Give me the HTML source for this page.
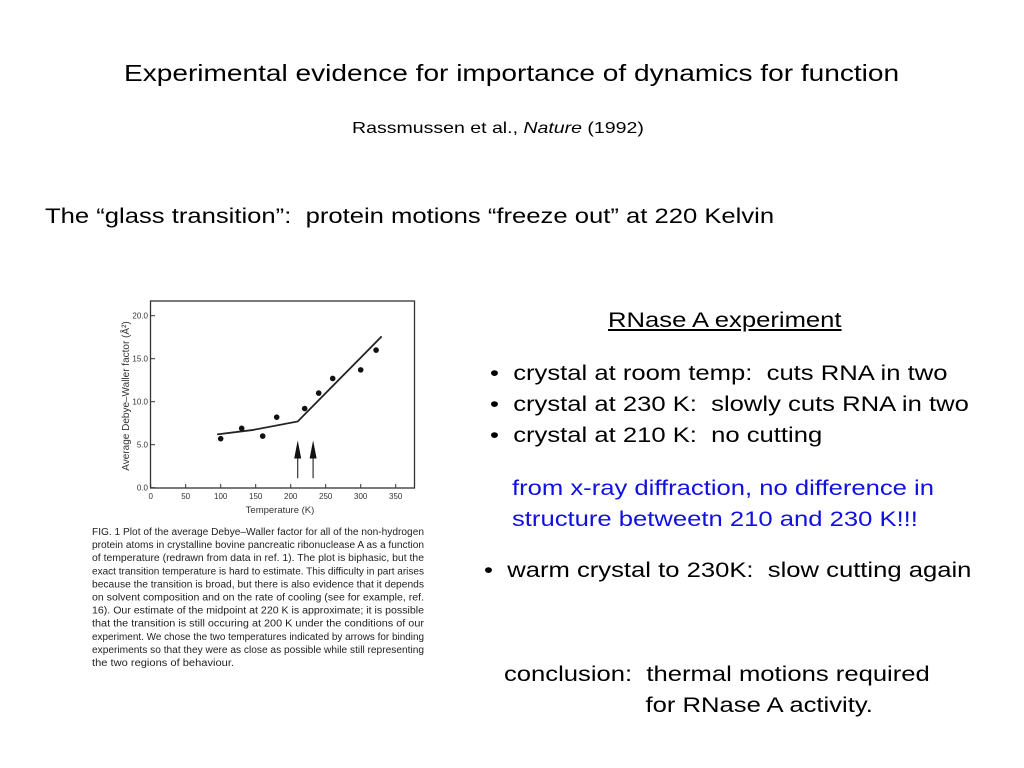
<!DOCTYPE html>
<html><head><meta charset="utf-8"><style>
body{margin:0;width:1024px;height:768px;background:#fff;position:relative;overflow:hidden;font-family:"Liberation Sans",sans-serif;color:#000}
.t{position:absolute;white-space:nowrap;transform:scaleX(1.22);transform-origin:0 0}
</style></head><body>
<div class="t" style="left:0;width:1024px;text-align:center;top:60px;font-size:23px;transform-origin:514px 0">Experimental evidence for importance of dynamics for function</div>
<div class="t" style="left:352px;top:120px;font-size:16px">Rassmussen et al., <i>Nature</i> (1992)</div>
<div class="t" style="left:45px;top:205px;font-size:21px">The “glass transition”:&nbsp; protein motions “freeze out” at 220 Kelvin</div>
<div class="t" style="left:608px;top:309px;font-size:21px;text-decoration:underline">RNase A experiment</div>
<div class="t" style="left:490px;top:358px;font-size:21px;line-height:31px">• &nbsp;crystal at room temp:&nbsp; cuts RNA in two<br>• &nbsp;crystal at 230 K:&nbsp; slowly cuts RNA in two<br>• &nbsp;crystal at 210 K:&nbsp; no cutting</div>
<div class="t" style="left:512px;top:473px;font-size:21px;line-height:31px;color:#1010e0">from x-ray diffraction, no difference in<br>structure betweetn 210 and 230 K!!!</div>
<div class="t" style="left:484px;top:559px;font-size:21px">• &nbsp;warm crystal to 230K:&nbsp; slow cutting again</div>
<div class="t" style="left:504px;top:659px;font-size:21px;line-height:31px">conclusion:&nbsp; thermal motions required<br><span style="padding-left:116px">for RNase A activity.</span></div>
<svg id="chart" style="position:absolute;left:0;top:0" width="1024" height="768"></svg>
<script>
const xTicks=[0,50,100,150,200,250,300,350];
const yTicks=[0,5,10,15,20];
const pointsT=[100,130,160,180,220,240,260,300,322];
const pointsB=[5.7,6.9,6.0,8.2,9.2,11.0,12.7,13.7,16.0];
const fitT=[95,145,210,330];
const fitB=[6.2,6.7,7.7,17.6];
const arrowT=[210,232];
const caption=["FIG. 1  Plot of the average Debye–Waller factor for all of the non-hydrogen","protein atoms in crystalline bovine pancreatic ribonuclease A as a function","of temperature (redrawn from data in ref. 1). The plot is biphasic, but the","exact transition temperature is hard to estimate. This difficulty in part arises","because the transition is broad, but there is also evidence that it depends","on solvent composition and on the rate of cooling (see for example, ref.","16). Our estimate of the midpoint at 220 K is approximate; it is possible","that the transition is still occuring at 200 K under the conditions of our","experiment. We chose the two temperatures indicated by arrows for binding","experiments so that they were as close as possible while still representing","the two regions of behaviour."];
const NS="http://www.w3.org/2000/svg",svg=document.getElementById('chart');
const X=t=>150.7+t*0.7, Y=b=>487.7-b*8.6;
function mk(tag,a,p){const e=document.createElementNS(NS,tag);for(const k in a)e.setAttribute(k,a[k]);(p||svg).appendChild(e);return e;}
const frame=mk('rect',{x:150.5,y:301,width:264,height:187,fill:'none',stroke:'#333','stroke-width':1.3});


xTicks.forEach(t=>{const l=mk('line',{x1:X(t),x2:X(t),y1:488,y2:484,stroke:'#333'});


const tx=mk('text',{x:X(t),y:499,'font-size':8,'text-anchor':'middle',fill:'#333'});tx.textContent=t;

});
yTicks.forEach(b=>{const l=mk('line',{x1:151,x2:155,y1:Y(b),y2:Y(b),stroke:'#333'});


const tx=mk('text',{x:148,y:Y(b)+3,'font-size':8,'text-anchor':'end',fill:'#333'});tx.textContent=b.toFixed(1);

});
const xt=mk('text',{x:280,y:513,'font-size':9.5,'text-anchor':'middle',fill:'#333'});xt.textContent='Temperature (K)';


const yt=mk('text',{x:0,y:0,'font-size':10,'text-anchor':'middle',fill:'#333',transform:'translate(129,396) rotate(-90)'});yt.textContent='Average Debye–Waller factor (Å²)';


const fl=mk('polyline',{points:fitT.map((t,i)=>X(t)+','+Y(fitB[i])).join(' '),fill:'none',stroke:'#222','stroke-width':1.8});


pointsT.forEach((t,i)=>{const c=mk('circle',{cx:X(t),cy:Y(pointsB[i]),r:2.8,fill:'#111'});

});
arrowT.forEach(t=>{const g=mk('g',{});


mk('line',{x1:X(t),x2:X(t),y1:Y(1.1),y2:Y(3.5),stroke:'#333','stroke-width':1.2},g);
mk('polygon',{points:`${X(t)-3.5},${Y(3.4)} ${X(t)+3.5},${Y(3.4)} ${X(t)},${Y(5.5)}`,fill:'#111'},g);});
caption.forEach((s,i)=>{const tx=mk('text',{x:92,y:535+i*13.1,'font-size':10,fill:'#222',textLength:i==caption.length-1?142:332,lengthAdjust:'spacingAndGlyphs'});tx.textContent=s;

});
</script>
</body></html>
